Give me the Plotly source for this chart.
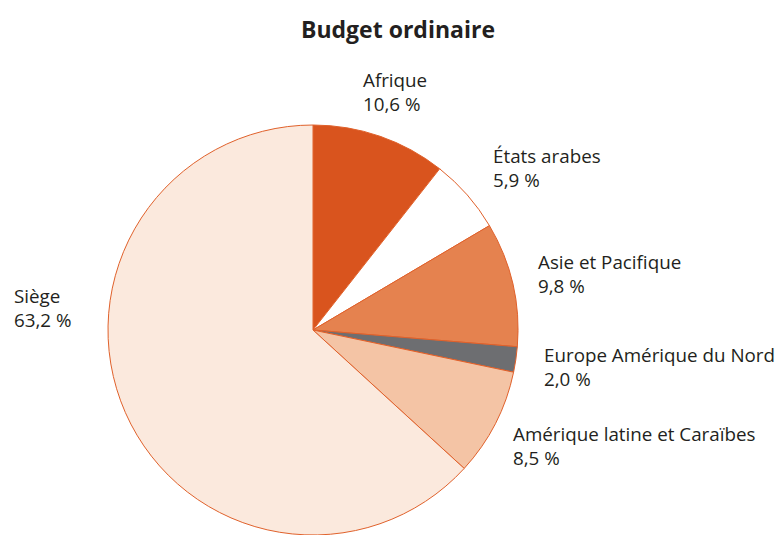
import plotly.graph_objects as go

# Regular budget breakdown by region (percent of total)
regions = ["Afrique", "États arabes", "Asie et Pacifique",
           "Europe Amérique du Nord", "Amérique latine et Caraïbes", "Siège"]
shares = [10.6, 5.9, 9.8, 2.0, 8.5, 63.2]
slice_colors = ["#D9541E", "#FFFFFF", "#E5824F", "#6D6E71", "#F4C4A5", "#FBE9DD"]

W, H = 778, 535
EDGE = "#E0612B"
TEXT = "#231F20"

def px_x(x):
    return x / W

def px_y(y):
    return 1 - y / H

# Pie geometry in pixels
cx, r, top = 313, 205, 125

fig = go.Figure(go.Pie(
    labels=regions,
    values=shares,
    sort=False,
    direction="clockwise",
    rotation=0,
    marker=dict(colors=slice_colors, line=dict(color=EDGE, width=1)),
    textinfo="none",
    hoverinfo="label+percent",
    showlegend=False,
    domain=dict(x=[px_x(cx - r), px_x(cx + r)], y=[0, px_y(top)]),
))

# Label anchor points (left edge, top of first line) in pixels
label_pos = [(361, 65), (491, 141), (536, 247), (542, 340), (511, 419), (12, 281)]

def fmt(v):
    return f"{v:.1f}".replace(".", ",") + " %"

for name, v, (lx, ly) in zip(regions, shares, label_pos):
    fig.add_annotation(
        x=px_x(lx), y=px_y(ly), xref="paper", yref="paper",
        xanchor="left", yanchor="top", align="left",
        text=f"{name}<br>{fmt(v)}", showarrow=False,
        font=dict(family="Open Sans", size=18.8, color=TEXT),
    )

fig.add_annotation(
    x=px_x(398), y=px_y(11), xref="paper", yref="paper",
    xanchor="center", yanchor="top", showarrow=False,
    text="<b>Budget ordinaire</b>",
    font=dict(family="Open Sans", size=23, color=TEXT),
)

fig.update_layout(
    width=W, height=H,
    margin=dict(l=0, r=0, t=0, b=0),
    paper_bgcolor="white",
    plot_bgcolor="white",
)

fig.write_html("out.html")
